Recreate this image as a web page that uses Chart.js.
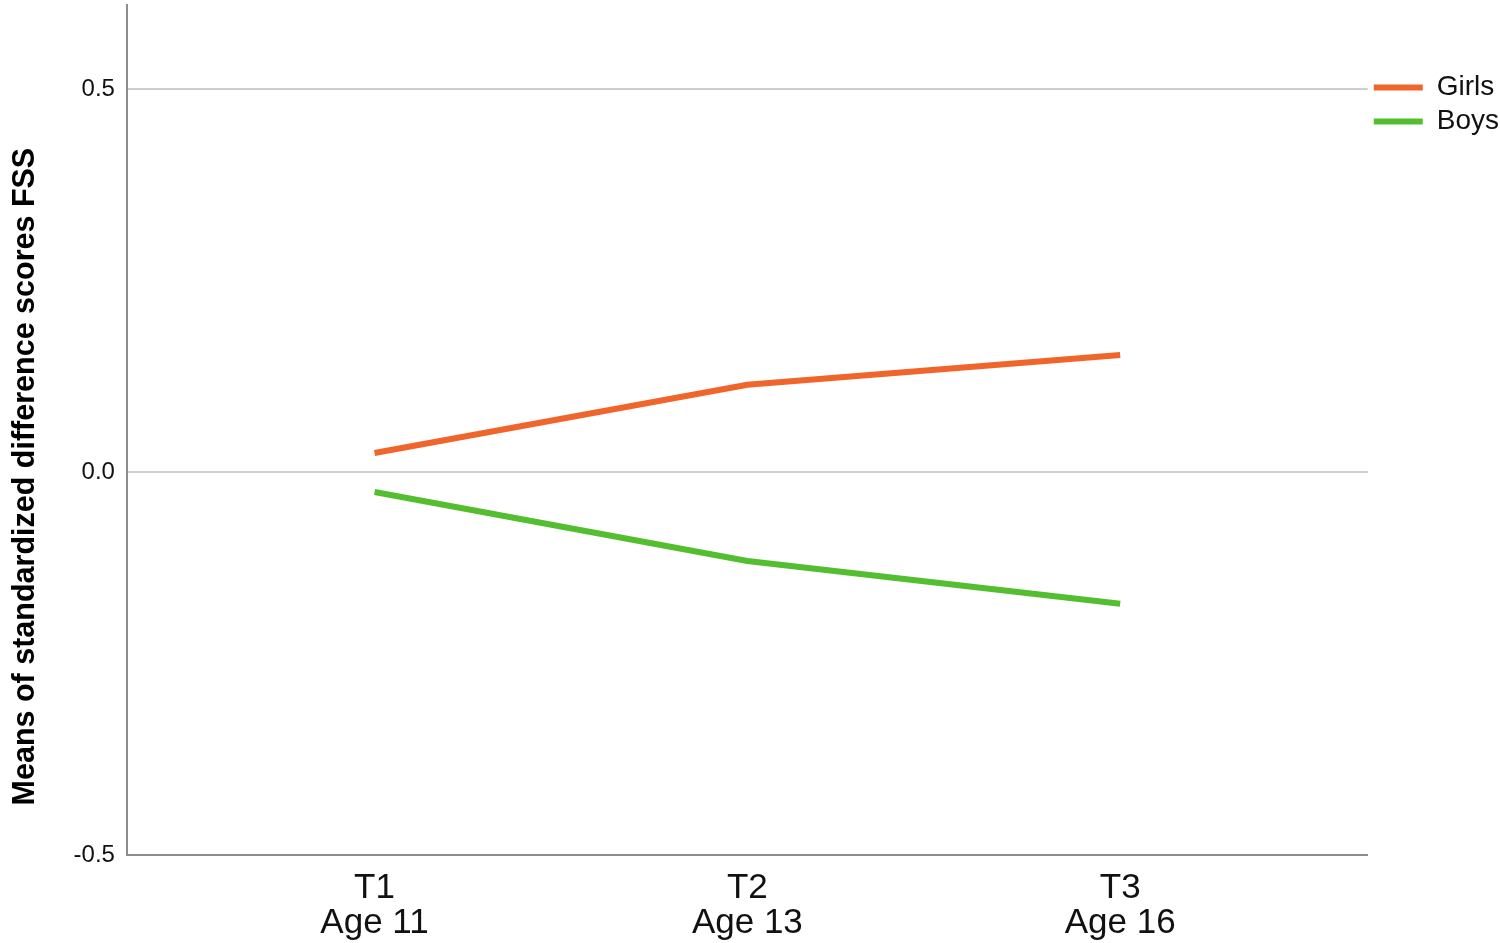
<!DOCTYPE html>
<html>
<head>
<meta charset="utf-8">
<script src="https://cdn.jsdelivr.net/npm/chart.js@4/dist/chart.umd.min.js"></script>
<style>
  html, body { margin: 0; padding: 0; background: #fff; }
  #wrap { width: 1500px; height: 943px; position: relative; }
</style>
</head>
<body>
<div id="wrap"><canvas id="c" width="1500" height="943"></canvas></div>
<script>
const categories = [["T1", "Age 11"], ["T2", "Age 13"], ["T3", "Age 16"]];
const girls = [0.025, 0.114, 0.153];
const boys = [-0.026, -0.116, -0.172];
const seriesNames = ["Girls", "Boys"];
const yTicks = [-0.5, 0.0, 0.5];
const yTitle = "Means of standardized difference scores FSS";

const FONT = "'Liberation Sans', Arial, sans-serif";
const toXY = arr => arr.map((v, i) => ({ x: i, y: v }));

new Chart(document.getElementById('c'), {
  type: 'line',
  data: {
    datasets: [
      { label: seriesNames[0], data: toXY(girls), borderColor: '#EF652C', backgroundColor: '#EF652C', borderWidth: 6, pointRadius: 0, tension: 0, borderCapStyle: 'butt' },
      { label: seriesNames[1], data: toXY(boys), borderColor: '#53BE2F', backgroundColor: '#53BE2F', borderWidth: 6, pointRadius: 0, tension: 0, borderCapStyle: 'butt' }
    ]
  },
  options: {
    responsive: false,
    animation: false,
    layout: { padding: { top: 5, left: 7, right: -9, bottom: -14 } },
    plugins: {
      tooltip: { enabled: false },
      legend: {
        position: 'right',
        align: 'start',
        title: { display: true, text: ' ', font: { size: 12, family: FONT }, padding: { top: 48, bottom: 0 } },
        labels: {
          usePointStyle: true,
          pointStyle: 'line',
          pointStyleWidth: 49,
          boxWidth: 49,
          boxHeight: 5,
          padding: 6,
          color: '#111',
          font: { size: 28, family: FONT }
        }
      }
    },
    scales: {
      x: {
        type: 'linear',
        min: -0.664,
        max: 2.664,
        afterBuildTicks: axis => { axis.ticks = categories.map((c, i) => ({ value: i })); },
        ticks: {
          autoSkip: false,
          maxRotation: 0,
          padding: 16,
          color: '#111',
          font: { size: 35, family: FONT, lineHeight: 1.0 },
          callback: v => categories[v]
        },
        grid: { display: false, drawTicks: false },
        border: { color: '#8c8c8c', width: 2 }
      },
      y: {
        min: -0.5,
        max: 0.61,
        afterBuildTicks: axis => { axis.ticks = yTicks.map(v => ({ value: v })); },
        ticks: {
          padding: 0,
          color: '#111',
          font: { size: 24, family: FONT, lineHeight: 0.4 },
          callback: v => v.toFixed(1)
        },
        grid: { color: '#cfcfcf', lineWidth: 2, drawTicks: true, tickLength: 12, tickColor: 'rgba(0,0,0,0)' },
        border: { color: '#8c8c8c', width: 2 },
        title: {
          display: true,
          text: yTitle + '           ',
          color: '#000',
          padding: { top: 0, bottom: 30 },
          font: { size: 30.5, weight: 'bold', family: FONT }
        }
      }
    }
  }
});
</script>
</body>
</html>
